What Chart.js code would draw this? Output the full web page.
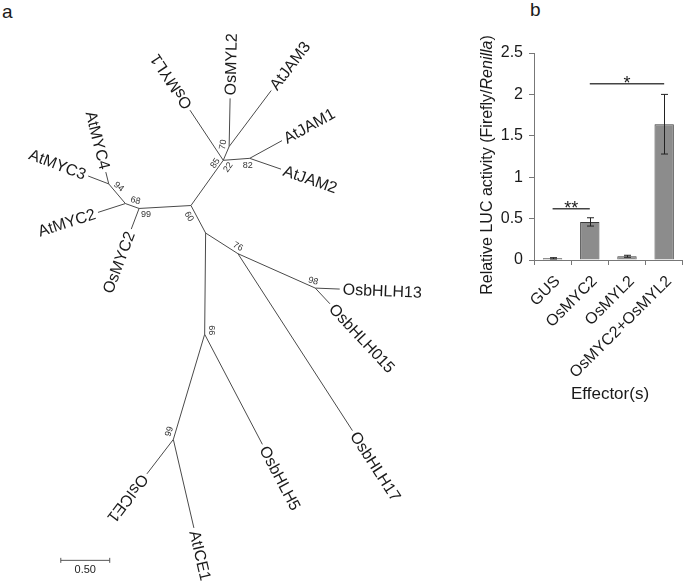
<!DOCTYPE html>
<html>
<head>
<meta charset="utf-8">
<script src="https://cdn.jsdelivr.net/npm/chart.js@4.4.1/dist/chart.umd.min.js"></script>
<style>
  body { margin: 0; background: #fff; font-family: "Liberation Sans", Arial, sans-serif; }
  #wrap { position: relative; width: 685px; height: 586px; overflow: hidden; }
  #treeBox { position: absolute; left: 0; top: 0; width: 470px; height: 586px; }
  #barBox { position: absolute; left: 460px; top: 0; width: 225px; height: 420px; }
  .panel { position: absolute; font-size: 19px; color: #1a1a1a; }
</style>
</head>
<body>
<div id="wrap">
  <div class="panel" style="left:2px; top:1px;">a</div>
  <div class="panel" style="left:530px; top:-1px;">b</div>
  <div id="treeBox"><canvas id="treeChart" width="470" height="586"></canvas></div>
  <div id="barBox"><canvas id="barChart" width="225" height="420"></canvas></div>
</div>
<script>
// ---- panel a: tree (node positions in branch-length units, 0.50 = scale bar) ----
const nodeIds = ['root', 'n99', 'n68', 'n94', 'n85', 'n70', 'n82', 'nB', 'n76', 'n98', 'n66', 'nICE',
  'AtMYC2', 'AtMYC3', 'AtMYC4', 'OsMYC2', 'OsMYL1', 'OsMYL2', 'AtJAM3', 'AtJAM1', 'AtJAM2',
  'OsbHLH13', 'OsbHLH015', 'OsbHLH17', 'OsbHLH5', 'OsICE1', 'AtICE1'];
const nodeX = [1.90, 1.37, 1.23, 1.06, 2.23, 2.29, 2.50, 2.05, 2.38, 3.17, 2.04, 1.72,
  0.95, 0.85, 1.03, 1.29, 1.89, 2.30, 2.72, 2.83, 2.82,
  3.42, 3.32, 3.55, 2.63, 1.45, 1.93];
const nodeY = [2.04, 2.07, 2.02, 1.82, 1.58, 1.44, 1.56, 2.32, 2.53, 2.88, 3.35, 4.42,
  2.11, 1.74, 1.70, 2.28, 1.07, 0.95, 0.87, 1.38, 1.67,
  2.89, 3.04, 4.33, 4.47, 4.77, 5.32];
const nodeParent = [null, 'root', 'n99', 'n68', 'root', 'n85', 'n85', 'root', 'nB', 'n76', 'nB', 'n66',
  'n68', 'n94', 'n94', 'n99', 'n85', 'n70', 'n70', 'n82', 'n82',
  'n98', 'n98', 'n76', 'n66', 'nICE', 'nICE'];
const unflippedLeaves = ['OsMYL1', 'OsICE1'];

const bootNodes = ['n85', 'n85', 'n70', 'n82', 'n94', 'n68', 'n99', 'root', 'n76', 'n98', 'n66', 'nICE'];
const bootValues = [85, 22, 70, 82, 94, 68, 99, 60, 76, 98, 66, 99];
// label offsets (px) and rotation (deg) for bootstrap values
const bootLayout = [[-8, 3, -55], [5, 7, -55], [-6, -2, -80], [-2, 7, 0], [10, 3, 40], [10, -3, 15],
  [7, 6, 0], [-2, 11, 60], [0, -7, 30], [-2, -7, 15], [7, -4, 90], [-4, -8, -73]];

const scaleBarX = [0.57, 1.07];
const scaleBarY = 5.65;
const scaleBarLabel = '0.50';

function idx(id) { return nodeIds.indexOf(id); }

const branchSets = [];
nodeIds.forEach((id, i) => {
  const p = nodeParent[i];
  if (!p) return;
  const j = idx(p);
  branchSets.push({
    data: [{ x: nodeX[j], y: nodeY[j] }, { x: nodeX[i], y: nodeY[i] }],
    showLine: true, borderColor: '#4a4a4a', borderWidth: 1, pointRadius: 0
  });
});
branchSets.push({
  data: [{ x: scaleBarX[0], y: scaleBarY }, { x: scaleBarX[1], y: scaleBarY }],
  showLine: true, borderColor: '#555', borderWidth: 1,
  pointStyle: 'line', pointRotation: 90, pointRadius: 2.5, pointBorderColor: '#555'
});

const treeLabels = {
  id: 'treeLabels',
  afterDatasetsDraw(chart) {
    const { ctx, scales: { x, y } } = chart;
    const P = i => [x.getPixelForValue(nodeX[i]), y.getPixelForValue(nodeY[i])];
    ctx.save();
    ctx.fillStyle = '#1a1a1a';
    ctx.font = '16px "Liberation Sans", Arial, sans-serif';
    ctx.textBaseline = 'middle';
    nodeIds.forEach((id, i) => {
      if (nodeParent.includes(id)) return; // internal node
      if (!nodeParent[i]) return;
      const [lx, ly] = P(i);
      const [px, py] = P(idx(nodeParent[i]));
      const a = Math.atan2(ly - py, lx - px);
      const gap = 3;
      const tx = lx + Math.cos(a) * gap, ty = ly + Math.sin(a) * gap;
      ctx.save();
      ctx.translate(tx, ty);
      if (Math.cos(a) < 0 && !unflippedLeaves.includes(id)) {
        ctx.rotate(a + Math.PI);
        ctx.textAlign = 'right';
      } else {
        ctx.rotate(a);
        ctx.textAlign = 'left';
      }
      ctx.fillText(id, 0, 1);
      ctx.restore();
    });
    ctx.font = '9px "Liberation Sans", Arial, sans-serif';
    ctx.fillStyle = '#333';
    ctx.textAlign = 'center';
    bootNodes.forEach((n, k) => {
      const [nx, ny] = P(idx(n));
      const [dx, dy, deg] = bootLayout[k];
      ctx.save();
      ctx.translate(nx + dx, ny + dy);
      ctx.rotate(deg * Math.PI / 180);
      ctx.fillText(String(bootValues[k]), 0, 0);
      ctx.restore();
    });
    ctx.font = '11px "Liberation Sans", Arial, sans-serif';
    ctx.fillStyle = '#222';
    ctx.textBaseline = 'top';
    ctx.fillText(scaleBarLabel, x.getPixelForValue((scaleBarX[0] + scaleBarX[1]) / 2), y.getPixelForValue(scaleBarY) + 4);
    ctx.restore();
  }
};

new Chart(document.getElementById('treeChart'), {
  type: 'scatter',
  data: { datasets: branchSets },
  options: {
    responsive: false, animation: false,
    layout: { padding: 0 },
    plugins: { legend: { display: false }, tooltip: { enabled: false } },
    scales: {
      x: { type: 'linear', min: 0, max: 4.70, display: false },
      y: { type: 'linear', min: 0, max: 5.86, reverse: true, display: false }
    }
  },
  plugins: [treeLabels]
});

// ---- panel b: LUC activity ----
const categories = ['GUS', 'OsMYC2', 'OsMYL2', 'OsMYC2+OsMYL2'];
const lucValues = [0.02, 0.46, 0.045, 1.64];
const lucErrors = [0.008, 0.05, 0.012, 0.36];
const yTicks = [0, 0.5, 1, 1.5, 2, 2.5];
const sigFrom = [0, 1];
const sigTo = [1, 3];
const sigLevel = [0.62, 2.13];
const sigMark = ['**', '*'];

const barExtras = {
  id: 'barExtras',
  afterDatasetsDraw(chart) {
    const { ctx, scales: { x, y } } = chart;
    const bars = chart.getDatasetMeta(0).data;
    ctx.save();
    ctx.strokeStyle = '#222';
    ctx.lineWidth = 1;
    bars.forEach((b, i) => {
      const cx = Math.round(b.x) + 0.5;
      const t = y.getPixelForValue(lucValues[i] + lucErrors[i]);
      const d = y.getPixelForValue(lucValues[i] - lucErrors[i]);
      ctx.beginPath();
      ctx.moveTo(cx, t); ctx.lineTo(cx, d);
      ctx.moveTo(cx - 3.5, t); ctx.lineTo(cx + 3.5, t);
      ctx.moveTo(cx - 3.5, d); ctx.lineTo(cx + 3.5, d);
      ctx.stroke();
    });
    ctx.strokeStyle = '#444';
    ctx.lineWidth = 1.5;
    ctx.fillStyle = '#1a1a1a';
    ctx.font = '18px "Liberation Sans", Arial, sans-serif';
    ctx.textAlign = 'center';
    ctx.textBaseline = 'alphabetic';
    sigFrom.forEach((f, k) => {
      const yy = y.getPixelForValue(sigLevel[k]);
      ctx.beginPath();
      ctx.moveTo(bars[f].x, yy); ctx.lineTo(bars[sigTo[k]].x, yy);
      ctx.stroke();
      ctx.fillText(sigMark[k], (bars[f].x + bars[sigTo[k]].x) / 2, yy + 5);
    });
    // axis titles
    ctx.font = '16px "Liberation Sans", Arial, sans-serif';
    ctx.textBaseline = 'middle';
    const parts = [['Relative LUC activity (Firefly/', ''], ['Renilla', 'italic '], [')', '']];
    let total = 0;
    parts.forEach(p => { ctx.font = p[1] + '16px "Liberation Sans", Arial, sans-serif'; total += ctx.measureText(p[0]).width; });
    ctx.save();
    ctx.translate(28, 165);
    ctx.rotate(-Math.PI / 2);
    let sx = -total / 2;
    ctx.textAlign = 'left';
    parts.forEach(p => {
      ctx.font = p[1] + '16px "Liberation Sans", Arial, sans-serif';
      ctx.fillText(p[0], sx, 0);
      sx += ctx.measureText(p[0]).width;
    });
    ctx.restore();
    ctx.font = '17px "Liberation Sans", Arial, sans-serif';
    ctx.textAlign = 'center';
    ctx.fillText('Effector(s)', 150, 394);
    ctx.restore();
  }
};

new Chart(document.getElementById('barChart'), {
  type: 'bar',
  data: {
    labels: categories,
    datasets: [{
      data: lucValues,
      backgroundColor: '#8c8c8c',
      borderColor: '#3a3a3a',
      borderWidth: 1,
      categoryPercentage: 1,
      barPercentage: 0.52
    }]
  },
  options: {
    responsive: false, animation: false,
    layout: { padding: { top: 53, right: 2, left: 0, bottom: 0 } },
    plugins: { legend: { display: false }, tooltip: { enabled: false } },
    scales: {
      x: {
        grid: { display: true, drawOnChartArea: false, offset: true, tickLength: 5, color: '#777' },
        border: { color: '#777', width: 1 },
        ticks: { color: '#1a1a1a', font: { size: 16, family: '"Liberation Sans", Arial, sans-serif' },
          maxRotation: 45, minRotation: 45, padding: 7, labelOffset: 5, autoSkip: false },
        afterFit: s => { s.height = 160; }
      },
      y: {
        min: 0, max: 2.5,
        afterBuildTicks: s => { s.ticks = yTicks.map(v => ({ value: v })); },
        grid: { display: true, drawOnChartArea: false, tickLength: 5, color: '#777' },
        border: { color: '#777', width: 1 },
        ticks: { color: '#1a1a1a', padding: 6, font: { size: 16, family: '"Liberation Sans", Arial, sans-serif' },
          callback: v => String(v) },
        afterFit: s => { s.width = 74; }
      }
    }
  },
  plugins: [barExtras]
});
</script>
</body>
</html>
